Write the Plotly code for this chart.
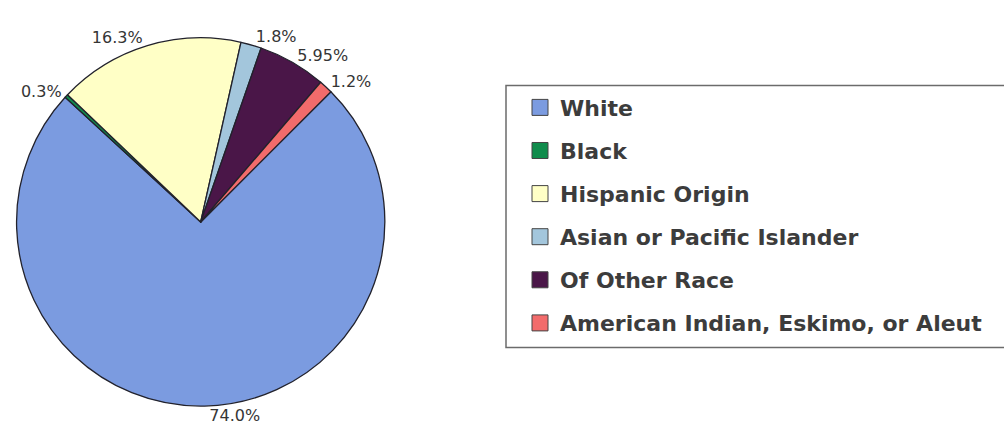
import plotly.graph_objects as go

# Population shares by race / origin (percent)
categories = [
    "White",
    "Black",
    "Hispanic Origin",
    "Asian or Pacific Islander",
    "Of Other Race",
    "American Indian, Eskimo, or Aleut",
]
shares = [74.0, 0.3, 16.3, 1.8, 5.95, 1.2]
slice_colors = ["#7b9be0", "#108c4c", "#ffffc6", "#a3c6dc", "#4a1648", "#f26b6b"]


def pct_label(v):
    # one decimal unless the value needs two
    return f"{v:.1f}%" if round(v, 1) == v else f"{v:.2f}%"


labels_text = [pct_label(v) for v in shares]

W, H = 1004, 430


def px_x(p):
    return p / W


def px_y(p):
    return 1 - p / H


fig = go.Figure()

fig.add_trace(go.Pie(
    labels=categories,
    values=shares,
    text=labels_text,
    texttemplate="%{text}",
    textposition="outside",
    outsidetextfont=dict(family="DejaVu Sans", size=16, color="#353535"),
    sort=False,
    direction="clockwise",
    rotation=45,
    marker=dict(colors=slice_colors, line=dict(color="#22222c", width=1.3)),
    showlegend=False,
    hoverinfo="skip",
    domain=dict(x=[px_x(15.7), px_x(385.7)], y=[px_y(408), px_y(38)]),
))

# Legend entries, one per category, drawn as square swatches
for name, col in zip(categories, slice_colors):
    fig.add_trace(go.Scatter(
        x=[None], y=[None],
        mode="markers",
        name=name,
        legendgroup=name,
        marker=dict(symbol="square", size=16, color=col,
                    line=dict(color="#444444", width=1)),
        showlegend=True,
        hoverinfo="skip",
    ))

# Legend frame
fig.add_shape(
    type="rect", xref="paper", yref="paper",
    x0=px_x(506), x1=px_x(1012), y0=px_y(349), y1=px_y(86),
    line=dict(color="#6b6b6b", width=1.5),
    fillcolor="rgba(0,0,0,0)",
)

fig.update_layout(
    width=W, height=H,
    margin=dict(l=0, r=0, t=0, b=0),
    paper_bgcolor="white",
    plot_bgcolor="white",
    xaxis=dict(visible=False),
    yaxis=dict(visible=False),
    showlegend=True,
    legend=dict(
        x=px_x(520), xanchor="left",
        y=px_y(87), yanchor="top",
        traceorder="grouped",
        tracegroupgap=11.5,
        borderwidth=0,
        bgcolor="rgba(0,0,0,0)",
        font=dict(family="DejaVu Sans", size=22, color="#3c3c3c", weight="bold"),
    ),
)

fig.write_html("out.html")
